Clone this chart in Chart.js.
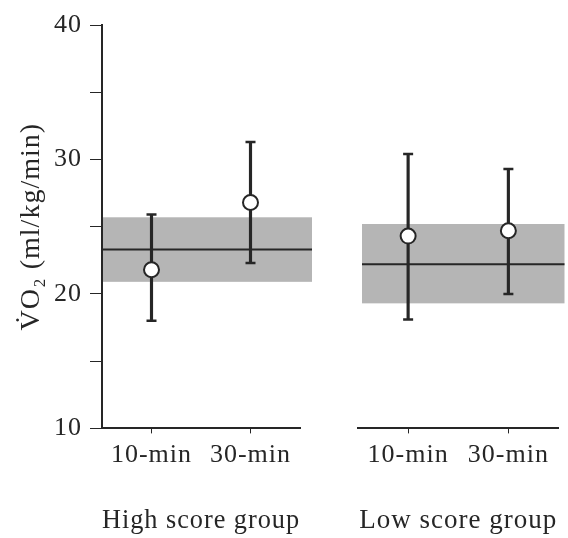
<!DOCTYPE html>
<html lang="en">
<head>
    <meta charset="UTF-8">
    <title>VO2 by score group</title>
    <style>
        body {
            margin: 0;
            background-color: #ffffff;
            width: 568px;
            height: 538px;
            overflow: hidden;
            position: relative;
        }
        #highChart {
            position: absolute;
            left: 0;
            top: 0;
        }
        #lowChart {
            position: absolute;
            left: 340px;
            top: 0;
        }
    </style>
</head>
<body>
    <canvas id="highChart" width="340" height="538"></canvas>
    <canvas id="lowChart" width="228" height="538"></canvas>

    <script src="https://cdn.jsdelivr.net/npm/chart.js"></script>

    <script>
        // categories
        const times = ['10-min', '30-min'];
        const groups = ['High score group', 'Low score group'];

        // high score group: mean and error bar ends
        const highMean = [21.8, 26.8];
        const highUpper = [25.9, 31.3];
        const highLower = [18.0, 22.3];
        // shaded reference band (low, high) and its centre line
        const highBand = [20.9, 25.7];
        const highBaseline = 23.3;

        // low score group
        const lowMean = [24.3, 24.7];
        const lowUpper = [30.4, 29.3];
        const lowLower = [18.1, 20.0];
        const lowBand = [19.3, 25.2];
        const lowBaseline = 22.2;

        // y axis
        const yMin = 10;
        const yMax = 40;
        const yStep = 5;

        const ink = '#262626';
        const fontFamily = '"Liberation Serif", "DejaVu Serif", serif';

        // the scanned type is set a bit loose
        const spacingPlugin = {
            id: 'spacing',
            beforeUpdate(chart) { chart.ctx.letterSpacing = '1px'; },
            beforeDraw(chart) { chart.ctx.letterSpacing = '1px'; }
        };

        // draws the grey band and its mean line behind the points
        const bandPlugin = {
            id: 'band',
            beforeDatasetsDraw(chart, args, opts) {
                const ctx = chart.ctx;
                const y = chart.scales.y;
                const area = chart.chartArea;
                const x0 = area.left + opts.startInset;
                const x1 = area.right + opts.endOverhang;
                const top = y.getPixelForValue(opts.range[1]);
                const bottom = y.getPixelForValue(opts.range[0]);
                ctx.save();
                ctx.fillStyle = '#b5b5b5';
                ctx.fillRect(x0, top, x1 - x0, bottom - top);
                ctx.strokeStyle = ink;
                ctx.lineWidth = 2;
                ctx.beginPath();
                const ym = y.getPixelForValue(opts.mean);
                ctx.moveTo(x0, ym);
                ctx.lineTo(x1, ym);
                ctx.stroke();
                ctx.restore();
            }
        };

        function buildDatasets(mean, upper, lower) {
            return [
                {
                    type: 'bar',
                    data: lower.map((v, i) => [v, upper[i]]),
                    backgroundColor: ink,
                    barThickness: 2.5,
                    order: 5
                },
                {
                    type: 'line',
                    data: upper,
                    showLine: false,
                    pointStyle: 'line',
                    pointRadius: 5,
                    borderColor: ink,
                    pointBorderWidth: 2.5,
                    order: 4
                },
                {
                    type: 'line',
                    data: lower,
                    showLine: false,
                    pointStyle: 'line',
                    pointRadius: 5,
                    borderColor: ink,
                    pointBorderWidth: 2.5,
                    order: 4
                },
                {
                    type: 'line',
                    data: mean,
                    showLine: false,
                    pointStyle: 'circle',
                    pointRadius: 7.5,
                    pointBackgroundColor: '#ffffff',
                    pointBorderColor: ink,
                    pointBorderWidth: 2,
                    order: 1
                }
            ];
        }

        function xScale(title) {
            return {
                type: 'category',
                offset: true,
                grid: {
                    offset: false,
                    drawOnChartArea: false,
                    drawTicks: true,
                    tickLength: 5,
                    tickColor: ink
                },
                border: { display: true, color: ink, width: 2 },
                ticks: {
                    color: ink,
                    padding: 6,
                    maxRotation: 0,
                    font: { family: fontFamily, size: 26 }
                },
                title: {
                    display: true,
                    text: title,
                    color: ink,
                    padding: { top: 28, bottom: 0 },
                    font: { family: fontFamily, size: 27 }
                }
            };
        }

        function createPanel(ctx, mean, upper, lower, band, baseline, title, showY, layoutPad, bandOpts) {
            return new Chart(ctx, {
                type: 'bar',
                data: {
                    labels: times,
                    datasets: buildDatasets(mean, upper, lower)
                },
                options: {
                    responsive: false,
                    animation: false,
                    layout: { padding: layoutPad },
                    plugins: {
                        legend: { display: false },
                        tooltip: { enabled: false },
                        band: {
                            range: band,
                            mean: baseline,
                            startInset: bandOpts.startInset,
                            endOverhang: bandOpts.endOverhang
                        }
                    },
                    scales: {
                        x: xScale(title),
                        y: {
                            display: showY,
                            min: yMin,
                            max: yMax,
                            afterFit(scale) {
                                if (showY) scale.width = 102;
                            },
                            grid: {
                                drawOnChartArea: false,
                                drawTicks: true,
                                tickLength: 12,
                                tickColor: ink
                            },
                            border: { display: true, color: ink, width: 2 },
                            ticks: {
                                stepSize: yStep,
                                color: ink,
                                padding: 8,
                                font: { family: fontFamily, size: 26 },
                                callback: v => (v % 10 === 0 ? v : '')
                            },
                            title: {
                                display: true,
                                text: 'V\u0307O\u2082 (ml/kg/min)',
                                color: ink,
                                padding: { top: 15, bottom: 0 },
                                font: { family: fontFamily, size: 28 }
                            }
                        }
                    }
                },
                plugins: [spacingPlugin, bandPlugin]
            });
        }

        window.onload = function() {
            createPanel(document.getElementById('highChart').getContext('2d'),
                highMean, highUpper, highLower, highBand, highBaseline, groups[0], true,
                { top: 25, right: 40, bottom: 1, left: 0 },
                { startInset: 1, endOverhang: 12 });

            createPanel(document.getElementById('lowChart').getContext('2d'),
                lowMean, lowUpper, lowLower, lowBand, lowBaseline, groups[1], false,
                { top: 25, right: 6, bottom: 1, left: 18 },
                { startInset: 4, endOverhang: 6 });
        };
    </script>
</body>
</html>
